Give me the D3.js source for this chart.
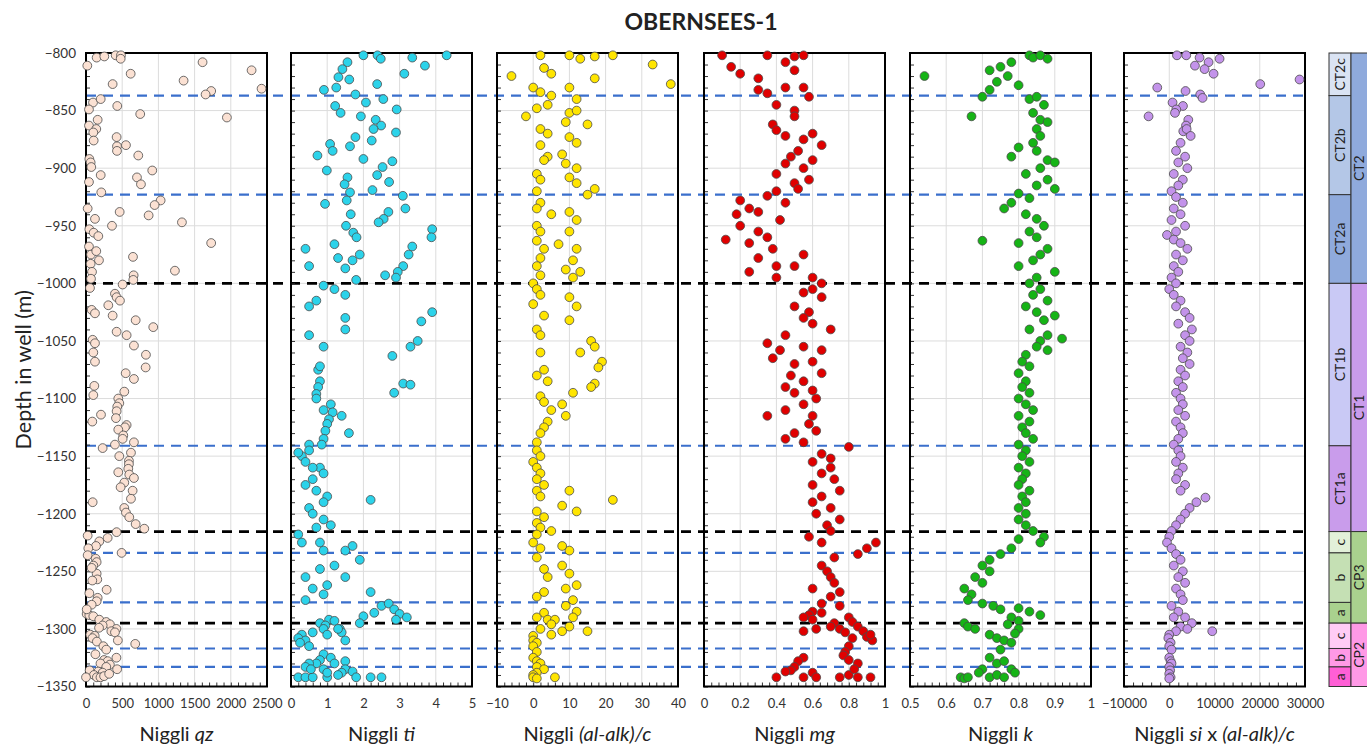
<!DOCTYPE html>
<html>
<head>
<meta charset="utf-8">
<script src="https://cdn.jsdelivr.net/npm/d3@7"></script>
<style>
  body { margin: 0; background: #fff; }
  svg { font-family: Lato, "Open Sans", sans-serif; }
</style>
</head>
<body>
<div id="chart"></div>
<script>
// ---- data: [value, depth] pairs ----
const qzPoints = [
  [18,-811],[147,-804],[253,-803],[410,-802],[483,-802],[479,-805],[617,-818],[368,-827],[1348,-824],[1610,-808],
  [2287,-815],[2425,-831],[1729,-833],[1652,-836],[1946,-856],[97,-843],[203,-840],[41,-849],[432,-846],[749,-853],
  [161,-858],[41,-863],[142,-866],[101,-869],[106,-876],[423,-873],[428,-881],[428,-885],[552,-880],[722,-889],
  [46,-892],[64,-895],[73,-899],[203,-906],[915,-902],[704,-908],[759,-914],[41,-912],[211,-921],[23,-935],
  [1031,-928],[948,-932],[865,-941],[465,-938],[124,-944],[1325,-947],[359,-950],[46,-953],[106,-956],[170,-959],
  [1729,-965],[41,-968],[69,-975],[142,-972],[179,-980],[64,-983],[83,-990],[649,-977],[1228,-989],[658,-993],
  [653,-997],[69,-996],[55,-1004],[506,-1001],[400,-1009],[423,-1012],[78,-1023],[124,-1026],[308,-1019],[469,-1015],
  [368,-1028],[686,-1032],[929,-1038],[423,-1042],[561,-1045],[662,-1054],[828,-1062],[824,-1073],[662,-1083],[548,-1078],
  [92,-1049],[124,-1052],[101,-1060],[124,-1068],[115,-1089],[101,-1097],[87,-1120],[207,-1114],[529,-1094],[446,-1100],
  [460,-1104],[432,-1107],[423,-1111],[414,-1117],[561,-1123],[538,-1125],[446,-1127],[515,-1132],[506,-1135],[662,-1138],
  [400,-1140],[230,-1143],[621,-1147],[460,-1150],[593,-1154],[593,-1157],[584,-1161],[598,-1166],[662,-1169],[446,-1164],
  [529,-1173],[478,-1177],[644,-1180],[621,-1187],[92,-1190],[529,-1195],[552,-1199],[598,-1203],[686,-1209],[805,-1213],
  [423,-1216],[23,-1219],[299,-1221],[184,-1224],[138,-1228],[32,-1230],[23,-1236],[492,-1234],[133,-1239],[147,-1242],
  [101,-1245],[147,-1252],[78,-1247],[156,-1257],[87,-1258],[285,-1266],[46,-1269],[161,-1273],[147,-1276],[78,-1279],
  [9,-1287],[46,-1288],[101,-1289],[184,-1292],[10,-1283],[280,-1294],[330,-1296],[230,-1297],[180,-1299],[420,-1300],
  [350,-1302],[400,-1303],[60,-1305],[120,-1306],[90,-1308],[440,-1310],[150,-1311],[680,-1313],[240,-1315],[280,-1318],
  [130,-1322],[420,-1325],[250,-1327],[300,-1328],[200,-1330],[330,-1331],[280,-1333],[430,-1335],[50,-1336],[170,-1337],
  [230,-1338],[110,-1340],[0,-1342],[150,-1342],[200,-1342],[250,-1341],[320,-1339]
];

const tiPoints = [
  [2.00,-802],[2.39,-802],[2.48,-805],[3.35,-804],[4.30,-802],[3.70,-811],[1.56,-808],[1.42,-814],[1.31,-821],[1.61,-823],
  [3.13,-818],[2.38,-827],[1.25,-830],[0.91,-832],[1.78,-836],[2.55,-840],[2.07,-843],[1.22,-846],[2.92,-849],[1.37,-852],
  [1.93,-855],[2.34,-858],[2.49,-863],[2.28,-866],[2.90,-869],[1.78,-873],[2.23,-876],[1.08,-879],[1.63,-881],[1.15,-885],
  [0.73,-889],[2.00,-892],[2.80,-894],[2.53,-899],[0.99,-902],[2.38,-906],[1.56,-908],[2.71,-912],[1.48,-914],[1.63,-921],
  [2.25,-919],[3.09,-924],[1.54,-928],[0.94,-931],[3.16,-935],[1.65,-940],[2.69,-938],[2.56,-944],[2.42,-947],[1.52,-950],
  [3.90,-953],[3.88,-960],[1.72,-956],[1.81,-960],[3.35,-968],[3.25,-975],[3.10,-985],[2.95,-990],[1.90,-975],[1.70,-980],
  [1.20,-966],[0.40,-970],[0.50,-985],[2.90,-995],[1.80,-997],[1.50,-987],[2.60,-993],[1.30,-978],
  [3.90,-1025],[3.60,-1033],[3.50,-1050],[3.30,-1055],[2.80,-1063],[3.10,-1087],[3.30,-1088],[2.85,-1095],[1.50,-1010],[1.20,-1005],
  [0.90,-1002],[0.70,-1015],[0.50,-1020],[1.50,-1030],[1.50,-1040],[0.50,-1045],[0.90,-1055],[0.75,-1075],[0.80,-1072],[0.80,-1085],
  [0.75,-1090],[0.70,-1096],[0.70,-1100],[1.10,-1105],[1.15,-1112],[1.05,-1118],[1.00,-1122],[0.95,-1128],[1.60,-1130],[1.40,-1115],
  [0.90,-1135],[0.85,-1140],[0.50,-1140],[0.90,-1110],
  [0.50,-1145],[0.30,-1150],[0.40,-1155],[0.80,-1160],[0.90,-1165],[0.60,-1170],[0.40,-1175],[0.70,-1180],[1.00,-1185],[0.90,-1190],
  [0.50,-1195],[0.60,-1200],[0.90,-1205],[1.10,-1210],[0.70,-1212],[0.20,-1218],[0.30,-1225],[0.80,-1225],[0.90,-1232],[0.60,-1160],
  [0.20,-1147],[2.20,-1188],
  [1.70,-1228],[1.50,-1232],[1.90,-1240],[1.20,-1245],[0.80,-1248],[0.40,-1255],[1.50,-1255],[0.60,-1265],[1.00,-1262],[0.90,-1270],
  [0.40,-1275],[2.20,-1268],[2.50,-1280],[2.70,-1278],[2.85,-1283],[3.00,-1287],[3.20,-1290],[2.90,-1292],[2.30,-1286],[2.00,-1289],
  [1.90,-1295],[1.05,-1292],[0.80,-1295],[1.20,-1293],[0.95,-1297],[1.35,-1300],
  [0.30,-1305],[0.20,-1308],[0.40,-1310],[0.25,-1312],[0.50,-1315],[0.60,-1303],[0.90,-1300],[1.00,-1305],[1.40,-1303],[1.50,-1310],
  [1.30,-1300],[0.90,-1322],[1.10,-1325],[0.80,-1327],[0.70,-1330],[0.50,-1330],[0.40,-1333],[0.90,-1335],[1.20,-1330],[1.50,-1328],
  [1.50,-1335],[1.40,-1338],[1.70,-1337],[1.80,-1342],[2.20,-1342],[2.50,-1342],[0.20,-1342],[0.40,-1342],[0.60,-1342],[1.00,-1342],
  [1.30,-1340],[1.00,-1338],[0.55,-1335]
];

const alkPoints = [
  [2,-802],[10,-802],[13,-805],[17,-803],[22,-802],[33,-810],[38,-827],[-6,-820],[17,-822],[5,-818],
  [3,-813],[0,-830],[2,-834],[10,-830],[12,-840],[5,-837],[-2,-855],[1,-848],[4,-845],[10,-852],
  [9,-860],[15,-862],[12,-850],[2,-866],[4,-870],[10,-873],[12,-878],[2,-880],[4,-890],[3,-893],
  [8,-888],[9,-896],[12,-900],[1,-905],[2,-910],[10,-908],[12,-913],[1,-920],[17,-918],[15,-923],
  [2,-930],[1,-935],[5,-940],[10,-938],[12,-945],[1,-950],[2,-955],[10,-955],[1,-963],[3,-970],
  [7,-966],[12,-970],[2,-978],[11,-980],[1,-985],[9,-988],[13,-990],[2,-993],[11,-995],[0,-1000],
  [1,-1005],[2,-1010],[0,-1018],[10,-1012],[12,-1020],[3,-1028],[10,-1032],[1,-1040],[2,-1045],[16,-1050],
  [17,-1055],[13,-1060],[19,-1068],[18,-1073],[2,-1060],[3,-1075],[1,-1080],[4,-1085],[17,-1087],[16,-1090],
  [11,-1095],[2,-1098],[3,-1103],[8,-1105],[5,-1110],[9,-1115],[4,-1120],[3,-1125],[2,-1130],[1,-1138],
  [1,-1145],[2,-1150],[0,-1155],[1,-1160],[2,-1165],[1,-1170],[3,-1175],[1,-1180],[2,-1185],[10,-1180],
  [22,-1188],[8,-1193],[12,-1198],[1,-1198],[3,-1203],[1,-1208],[2,-1212],[1,-1218],[0,-1225],[5,-1215],
  [2,-1230],[10,-1232],[8,-1228],[1,-1238],[3,-1248],[8,-1245],[10,-1252],[4,-1255],[12,-1262],[9,-1265],
  [3,-1268],[1,-1272],[11,-1275],[9,-1280],[12,-1285],[11,-1290],[3,-1286],[1,-1290],[4,-1292],[6,-1292],
  [5,-1296],[10,-1298],[15,-1302],[8,-1302],[5,-1305],[2,-1300],[0,-1306],[0,-1310],[1,-1312],[0,-1315],
  [1,-1320],[0,-1325],[1,-1328],[2,-1330],[1,-1333],[3,-1335],[1,-1338],[0,-1340],[6,-1342],[0,-1342],[1,-1343]
];

const mgPoints = [
  [0.10,-802],[0.35,-802],[0.50,-803],[0.55,-802],[0.45,-808],[0.15,-812],[0.20,-818],[0.30,-822],[0.50,-815],[0.45,-830],
  [0.30,-832],[0.35,-835],[0.55,-830],[0.58,-838],[0.40,-845],[0.50,-850],[0.50,-855],[0.38,-862],[0.40,-867],[0.45,-872],
  [0.55,-875],[0.52,-885],[0.48,-890],[0.60,-870],[0.65,-880],[0.60,-893],[0.45,-896],[0.55,-900],[0.40,-905],[0.58,-910],
  [0.50,-913],[0.52,-918],[0.40,-920],[0.35,-924],[0.20,-928],[0.25,-935],[0.18,-940],[0.30,-938],[0.45,-930],[0.42,-945],
  [0.20,-950],[0.30,-955],[0.12,-962],[0.35,-960],[0.25,-965],[0.38,-970],[0.30,-978],[0.40,-985],[0.25,-990],[0.40,-995],
  [0.50,-985],[0.55,-975],[0.60,-995],[0.65,-1000],[0.60,-1005],[0.55,-1008],[0.65,-1012],[0.50,-1020],[0.58,-1025],[0.55,-1030],
  [0.60,-1035],[0.70,-1040],[0.45,-1045],[0.35,-1052],[0.42,-1058],[0.55,-1055],[0.65,-1058],[0.38,-1065],[0.50,-1070],[0.60,-1068],
  [0.48,-1080],[0.55,-1085],[0.65,-1078],[0.45,-1090],[0.50,-1095],[0.60,-1093],[0.62,-1100],[0.55,-1105],[0.45,-1110],[0.35,-1115],
  [0.60,-1115],[0.58,-1122],[0.62,-1128],[0.50,-1130],[0.45,-1135],[0.55,-1138],[0.80,-1142],[0.65,-1148],[0.70,-1152],[0.60,-1155],
  [0.70,-1160],[0.65,-1165],[0.72,-1170],[0.60,-1175],[0.75,-1180],[0.65,-1185],[0.60,-1190],[0.70,-1195],[0.62,-1200],[0.75,-1205],
  [0.68,-1210],[0.70,-1215],[0.58,-1220],[0.65,-1225],[0.95,-1225],[0.90,-1230],[0.85,-1235],[0.72,-1238],[0.65,-1245],[0.68,-1250],
  [0.70,-1255],[0.72,-1260],[0.60,-1265],[0.75,-1268],[0.70,-1272],[0.65,-1278],[0.75,-1280],[0.60,-1285],[0.58,-1288],[0.55,-1290],
  [0.60,-1292],[0.65,-1286],[0.72,-1295],[0.70,-1298],[0.80,-1290],[0.82,-1294],[0.75,-1300],[0.78,-1303],[0.85,-1298],[0.88,-1302],
  [0.90,-1307],[0.93,-1310],[0.92,-1305],[0.82,-1308],[0.62,-1300],[0.55,-1302],[0.80,-1315],[0.78,-1320],[0.77,-1323],[0.80,-1327],
  [0.85,-1330],[0.55,-1325],[0.52,-1328],[0.50,-1333],[0.48,-1336],[0.45,-1337],[0.40,-1342],[0.55,-1342],[0.60,-1338],[0.62,-1342],
  [0.75,-1342],[0.80,-1340],[0.85,-1342],[0.92,-1342],[0.83,-1335]
];

const kPoints = [
  [0.83,-802],[0.84,-804],[0.86,-802],[0.88,-805],[0.78,-808],[0.75,-812],[0.72,-815],[0.77,-820],[0.54,-820],[0.74,-825],
  [0.80,-828],[0.72,-832],[0.70,-838],[0.83,-840],[0.85,-838],[0.87,-845],[0.67,-855],[0.84,-852],[0.86,-858],[0.88,-860],
  [0.85,-866],[0.86,-872],[0.84,-878],[0.85,-885],[0.80,-882],[0.78,-890],[0.88,-893],[0.90,-895],[0.86,-900],[0.82,-905],
  [0.88,-910],[0.85,-915],[0.90,-918],[0.80,-922],[0.83,-926],[0.78,-930],[0.76,-935],[0.82,-940],[0.85,-944],[0.87,-950],
  [0.83,-955],[0.85,-960],[0.70,-963],[0.80,-965],[0.88,-970],[0.86,-975],[0.84,-980],[0.80,-985],[0.90,-990],[0.85,-995],
  [0.83,-1000],[0.86,-1005],[0.84,-1010],[0.88,-1015],[0.82,-1020],[0.85,-1025],[0.90,-1028],[0.87,-1032],[0.83,-1040],[0.88,-1045],
  [0.86,-1050],[0.92,-1048],[0.85,-1055],[0.88,-1058],[0.82,-1062],[0.81,-1068],[0.83,-1072],[0.80,-1078],[0.82,-1085],[0.81,-1090],
  [0.83,-1095],[0.80,-1100],[0.82,-1105],[0.84,-1110],[0.80,-1115],[0.83,-1120],[0.81,-1125],[0.82,-1130],[0.84,-1135],[0.80,-1140],
  [0.82,-1145],[0.81,-1150],[0.83,-1155],[0.80,-1160],[0.82,-1165],[0.81,-1170],[0.80,-1175],[0.83,-1180],[0.81,-1185],[0.82,-1190],
  [0.80,-1195],[0.82,-1200],[0.80,-1205],[0.82,-1210],[0.84,-1215],[0.87,-1220],[0.86,-1225],[0.80,-1222],[0.78,-1230],[0.75,-1235],
  [0.72,-1240],[0.70,-1245],[0.72,-1250],[0.68,-1255],[0.70,-1260],[0.65,-1265],[0.67,-1270],[0.66,-1275],[0.70,-1278],[0.73,-1280],
  [0.75,-1283],[0.80,-1282],[0.83,-1285],[0.86,-1288],[0.78,-1290],[0.80,-1293],[0.77,-1296],[0.65,-1295],[0.66,-1298],[0.68,-1300],
  [0.72,-1305],[0.74,-1308],[0.76,-1310],[0.78,-1312],[0.80,-1300],[0.79,-1304],[0.75,-1318],[0.72,-1325],[0.74,-1330],[0.76,-1328],
  [0.78,-1335],[0.70,-1335],[0.69,-1338],[0.72,-1342],[0.74,-1340],[0.76,-1342],[0.79,-1338],[0.64,-1342],[0.65,-1343],[0.66,-1342]
];

const siPoints = [
  [1700,-802],[3760,-802],[6700,-804],[8690,-808],[11120,-805],[5680,-811],[7810,-814],[9800,-818],[20110,-827],[28800,-823],
  [-2650,-830],[3600,-833],[6850,-836],[7360,-839],[730,-843],[3030,-846],[1550,-849],[1260,-852],[-4570,-855],[4210,-858],
  [3700,-863],[3100,-868],[3840,-866],[4730,-872],[2500,-878],[1500,-885],[3500,-890],[2000,-895],[4000,-900],[1000,-905],
  [3000,-910],[2000,-915],[500,-920],[1500,-925],[3000,-930],[1000,-935],[2500,-940],[500,-945],[3500,-950],[1500,-955],
  [-500,-958],[1000,-962],[2500,-965],[4000,-970],[1500,-975],[3000,-980],[1000,-985],[2000,-990],[500,-995],[1500,-1000],
  [0,-1005],[1000,-1010],[2500,-1015],[1500,-1020],[3500,-1025],[4500,-1030],[2000,-1035],[5000,-1040],[3500,-1045],[4500,-1050],
  [2500,-1055],[4000,-1060],[3000,-1065],[4500,-1070],[2500,-1075],[3500,-1080],[2000,-1085],[3000,-1090],[1500,-1095],[2500,-1100],
  [3000,-1105],[2000,-1110],[3500,-1115],[1500,-1120],[2500,-1125],[3000,-1130],[2000,-1135],[1000,-1140],[2000,-1145],[2500,-1150],
  [1500,-1155],[3000,-1160],[2000,-1165],[1500,-1170],[3500,-1175],[2500,-1180],[8000,-1186],[6000,-1190],[4500,-1195],[3500,-1200],
  [2500,-1205],[1500,-1210],[500,-1215],[0,-1220],[-500,-1225],[500,-1230],[1500,-1235],[2500,-1240],[1000,-1245],[3000,-1250],
  [2000,-1255],[3500,-1260],[1500,-1265],[2500,-1270],[3000,-1275],[500,-1280],[2000,-1285],[1000,-1290],[3500,-1290],[5000,-1295],
  [2500,-1298],[4000,-1300],[9500,-1302],[1500,-1302],[0,-1305],[-200,-1308],[300,-1312],[0,-1315],[500,-1318],[0,-1325],
  [300,-1328],[500,-1330],[0,-1333],[200,-1336],[0,-1339],[300,-1342],[0,-1343]
];

// x-axis ticks for each panel (first/last give the domain)
const qzTicks = [0, 500, 1000, 1500, 2000, 2500];
const tiTicks = [0, 1, 2, 3, 4, 5];
const alkTicks = [-10, 0, 10, 20, 30, 40];
const mgTicks = [0, 0.2, 0.4, 0.6, 0.8, 1];
const kTicks = [0.5, 0.6, 0.7, 0.8, 0.9, 1];
const siTicks = [-10000, 0, 10000, 20000, 30000];

const depthTicks = d3.range(-800, -1351, -50);

// boundaries (m)
const blueBoundaries = [-837, -923, -1141, -1234, -1277, -1317, -1333];
const blackBoundaries = [-1000, -1215.5, -1295];

// stratigraphic units
const subUnitNames = ["CT2c", "CT2b", "CT2a", "CT1b", "CT1a", "c", "b", "a", "c", "b", "a"];
const subUnitTops = [-800, -837, -923, -1000, -1141, -1215.5, -1234, -1277, -1295, -1317, -1333];
const subUnitBases = [-837, -923, -1000, -1141, -1215.5, -1234, -1277, -1295, -1317, -1333, -1350];
const unitNames = ["CT2", "CT1", "CP3", "CP2"];
const unitTops = [-800, -1000, -1215.5, -1295];
const unitBases = [-1000, -1215.5, -1295, -1350];

// ---- layout ----
const width = 1367, height = 746;
const plotTop = 53, plotBottom = 686.5;
const panelW = 181;
const panelLefts = [86, 291, 497, 704, 910, 1124];

const subUnitColors = ["#dae3f3", "#b4c7e7", "#8faadc", "#c9c9f5", "#c99ceb", "#e2f0d9", "#c5e0b4", "#a9d18e", "#ffccf5", "#ff99e6", "#ff5fd6"];
const unitColors = ["#8faadc", "#c99ceb", "#a9d18e", "#ff99e6"];

const panels = [
  { points: qzPoints, ticks: qzTicks, minor: 100, fill: "#fbe1d3", title: ["Niggli ", "qz"] },
  { points: tiPoints, ticks: tiTicks, minor: 0.2, fill: "#2cd3ea", title: ["Niggli ", "ti"] },
  { points: alkPoints, ticks: alkTicks, minor: 2, fill: "#ffe500", title: ["Niggli ", "(al-alk)/c"] },
  { points: mgPoints, ticks: mgTicks, minor: 0.04, fill: "#e00000", title: ["Niggli ", "mg"] },
  { points: kPoints, ticks: kTicks, minor: 0.02, fill: "#16b416", title: ["Niggli ", "k"] },
  { points: siPoints, ticks: siTicks, minor: 2000, fill: "#c393ea", title: ["Niggli ", "si", " x ", "(al-alk)/c"] }
];

const svg = d3.select("#chart").append("svg")
  .attr("width", width)
  .attr("height", height);

const y = d3.scaleLinear().domain([-800, -1350]).range([plotTop, plotBottom]);

// title
svg.append("text")
  .attr("x", 701).attr("y", 30)
  .attr("text-anchor", "middle")
  .attr("font-size", 23).attr("font-weight", "bold")
  .attr("fill", "#222")
  .text("OBERNSEES-1");

// y axis title
svg.append("text")
  .attr("transform", `translate(31,${(plotTop + plotBottom) / 2}) rotate(-90)`)
  .attr("text-anchor", "middle")
  .attr("font-size", 21.5)
  .attr("fill", "#222")
  .text("Depth in well (m)");

const gridLayer = svg.append("g");
const dashLayer = svg.append("g");
const panelLayer = svg.append("g");

panels.forEach((p, i) => {
  const x = d3.scaleLinear()
    .domain([p.ticks[0], p.ticks[p.ticks.length - 1]])
    .range([0, panelW]);

  const grid = gridLayer.append("g").attr("transform", `translate(${panelLefts[i]},0)`);
  grid.selectAll(".hgrid").data(depthTicks).join("line")
    .attr("x1", 0).attr("x2", panelW)
    .attr("y1", d => y(d)).attr("y2", d => y(d))
    .attr("stroke", "#dcdcdc").attr("stroke-width", 1);
  grid.selectAll(".vgrid").data(p.ticks).join("line")
    .attr("x1", d => x(d)).attr("x2", d => x(d))
    .attr("y1", plotTop).attr("y2", plotBottom)
    .attr("stroke", "#dcdcdc").attr("stroke-width", 1);

  const g = panelLayer.append("g").attr("transform", `translate(${panelLefts[i]},0)`);

  // minor ticks on the depth axis
  g.append("g")
    .call(d3.axisLeft(y).tickValues(d3.range(-800, -1351, -10)).tickSize(-4).tickFormat(""))
    .call(a => a.select(".domain").remove())
    .selectAll("line").attr("stroke", "#333");

  // depth labels on the first panel
  if (i === 0) {
    g.append("g")
      .call(d3.axisLeft(y).tickValues(depthTicks).tickSize(0).tickPadding(10).tickFormat(d3.format("")))
      .call(a => a.select(".domain").remove())
      .selectAll("text").attr("font-size", 13.5).attr("fill", "#333")
      .attr("font-family", "Lato, 'Open Sans', sans-serif");
  }

  // x axis minor ticks and labels
  const lo = p.ticks[0], hi = p.ticks[p.ticks.length - 1];
  const minorVals = d3.range(Math.round((hi - lo) / p.minor) + 1).map(k => lo + k * p.minor);
  g.append("g")
    .attr("transform", `translate(0,${plotBottom})`)
    .call(d3.axisBottom(x).tickValues(minorVals).tickSize(-4).tickFormat(""))
    .call(a => a.select(".domain").remove())
    .selectAll("line").attr("stroke", "#333");
  g.append("g")
    .attr("transform", `translate(0,${plotBottom})`)
    .call(d3.axisBottom(x).tickValues(p.ticks).tickSize(0).tickPadding(12).tickFormat(d3.format("")))
    .call(a => a.select(".domain").remove())
    .selectAll("text").attr("font-size", 13).attr("fill", "#333")
    .attr("font-family", "Lato, 'Open Sans', sans-serif");

  // border
  g.append("rect")
    .attr("x", 0).attr("y", plotTop)
    .attr("width", panelW).attr("height", plotBottom - plotTop)
    .attr("fill", "none").attr("stroke", "#000").attr("stroke-width", 2);

  // axis title
  const t = g.append("text")
    .attr("x", panelW / 2).attr("y", 741)
    .attr("text-anchor", "middle")
    .attr("font-size", 20).attr("fill", "#222");
  p.title.forEach((s, k) => {
    t.append("tspan").attr("font-style", k % 2 === 1 ? "italic" : "normal").text(s);
  });

  // points
  g.append("g").selectAll("circle").data(p.points).join("circle")
    .attr("cx", d => x(d[0]))
    .attr("cy", d => y(d[1]))
    .attr("r", 4.4)
    .attr("fill", p.fill)
    .attr("stroke", "#4a4a4a")
    .attr("stroke-width", 0.8);
});

// boundary dashes across all panels
const dashX1 = panelLefts[0], dashX2 = panelLefts[5] + panelW;
dashLayer.selectAll(".blue").data(blueBoundaries).join("line")
  .attr("x1", dashX1).attr("x2", dashX2)
  .attr("y1", d => y(d)).attr("y2", d => y(d))
  .attr("stroke", "#3a6fcc").attr("stroke-width", 2.2)
  .attr("stroke-dasharray", "10,7");
dashLayer.selectAll(".black").data(blackBoundaries).join("line")
  .attr("x1", dashX1).attr("x2", dashX2)
  .attr("y1", d => y(d)).attr("y2", d => y(d))
  .attr("stroke", "#000").attr("stroke-width", 2.6)
  .attr("stroke-dasharray", "10,7");

// stratigraphic column
const col1 = 1329, col2 = 1351, col3 = 1372;
const strat = svg.append("g");
const sub = strat.selectAll(".sub").data(subUnitNames).join("g");
sub.append("rect")
  .attr("x", col1).attr("width", col2 - col1)
  .attr("y", (d, i) => y(subUnitTops[i]))
  .attr("height", (d, i) => y(subUnitBases[i]) - y(subUnitTops[i]))
  .attr("fill", (d, i) => subUnitColors[i])
  .attr("stroke", "#333").attr("stroke-width", 1);
sub.append("text")
  .attr("transform", (d, i) => `translate(${(col1 + col2) / 2 + 5},${(y(subUnitTops[i]) + y(subUnitBases[i])) / 2}) rotate(-90)`)
  .attr("text-anchor", "middle")
  .attr("font-size", 14).attr("fill", "#222")
  .text(d => d);

const main = strat.selectAll(".unit").data(unitNames).join("g");
main.append("rect")
  .attr("x", col2).attr("width", col3 - col2)
  .attr("y", (d, i) => y(unitTops[i]))
  .attr("height", (d, i) => y(unitBases[i]) - y(unitTops[i]))
  .attr("fill", (d, i) => unitColors[i])
  .attr("stroke", "#333").attr("stroke-width", 1);
main.append("text")
  .attr("transform", (d, i) => `translate(${col2 + 13},${(y(unitTops[i]) + y(unitBases[i])) / 2}) rotate(-90)`)
  .attr("text-anchor", "middle")
  .attr("font-size", 14).attr("fill", "#222")
  .text(d => d);
</script>
</body>
</html>
